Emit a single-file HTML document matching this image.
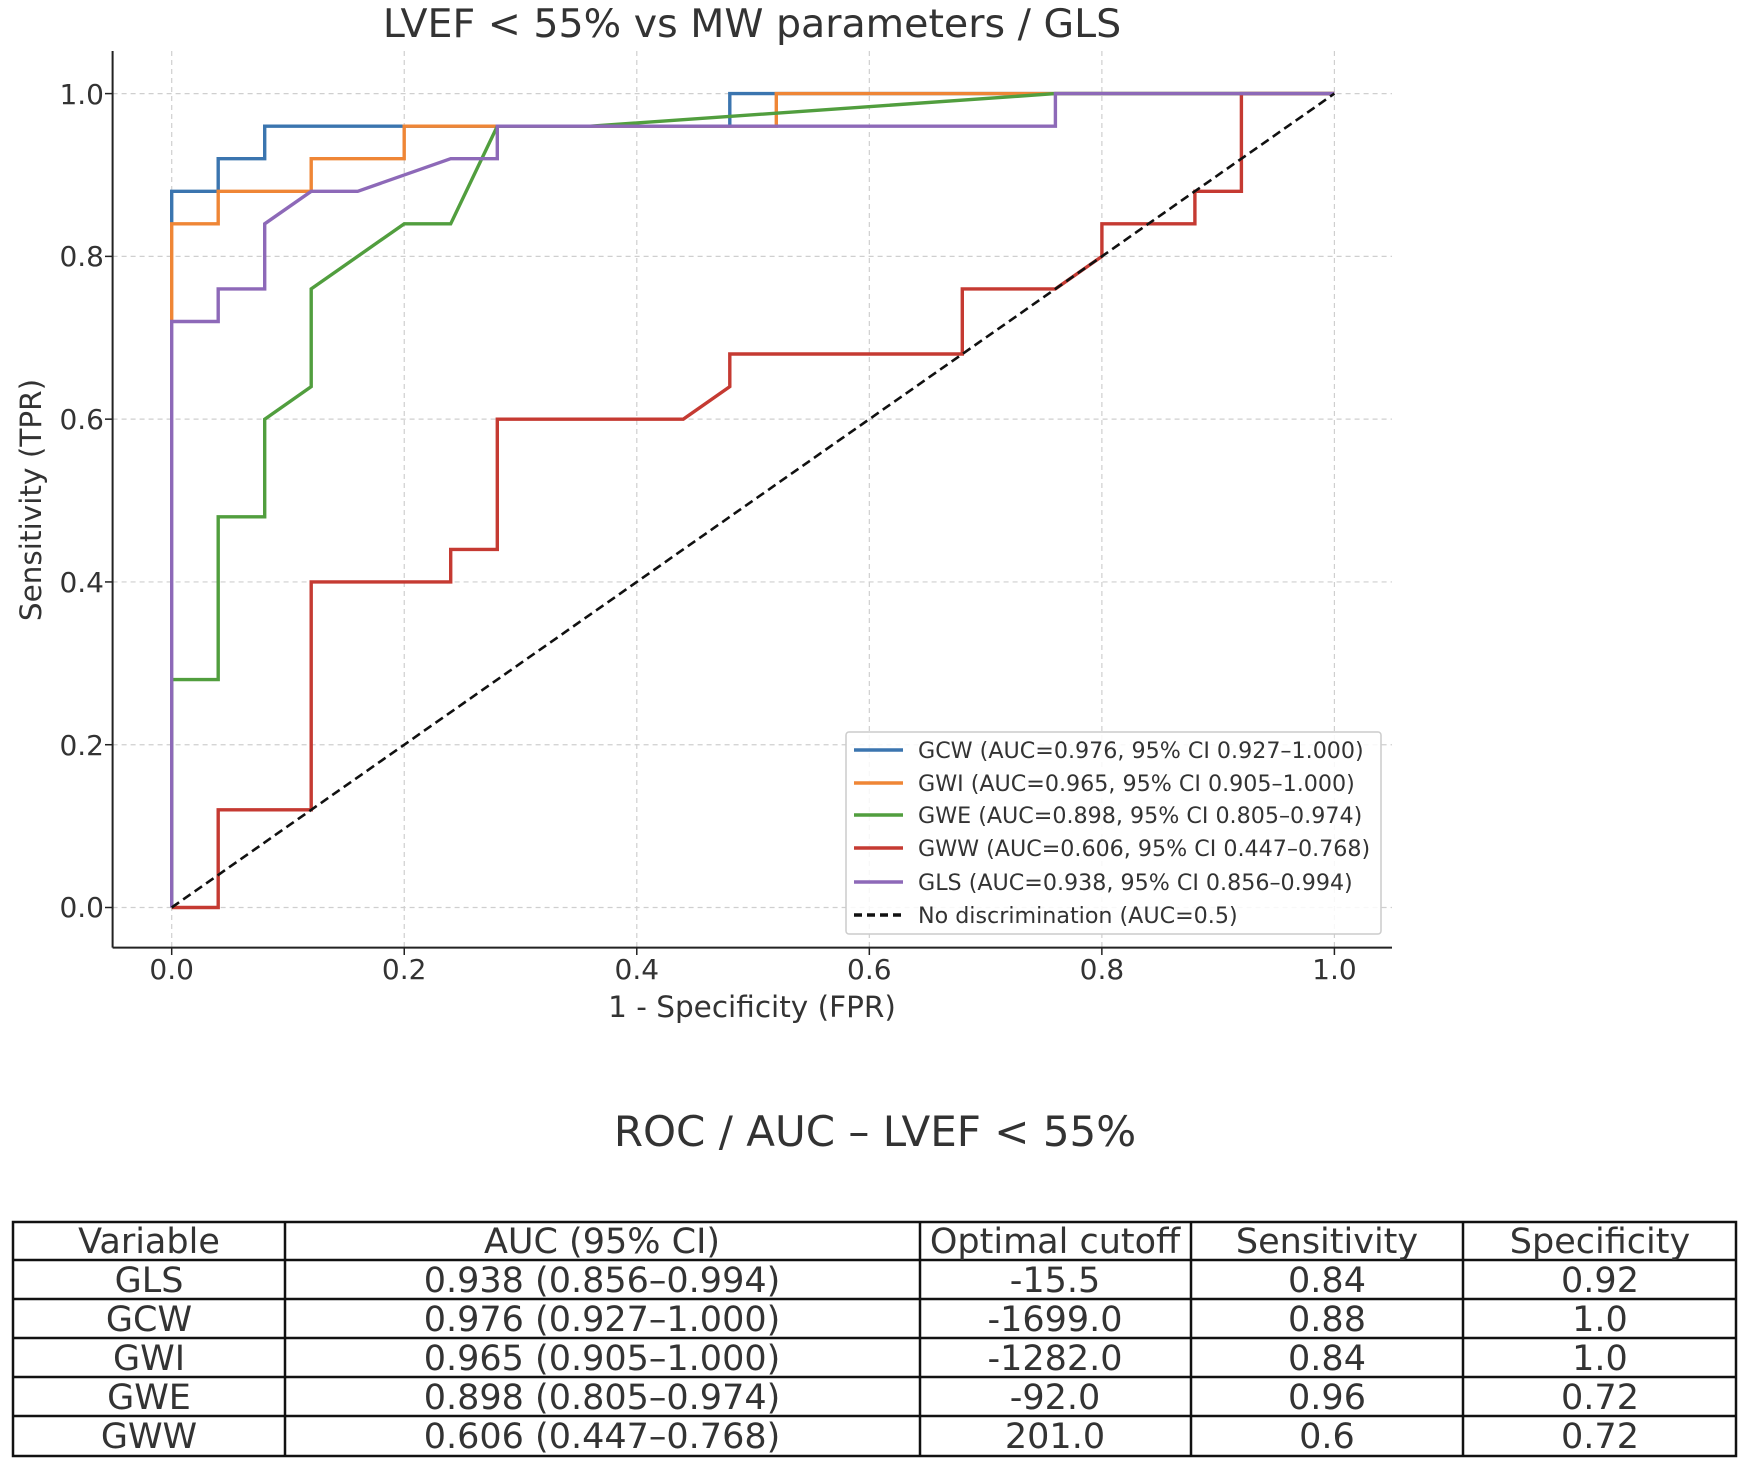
<!DOCTYPE html>
<html><head><meta charset="utf-8"><style>
html,body{margin:0;padding:0;background:#fff;}
svg{display:block;font-family:"DejaVu Sans","Liberation Sans",sans-serif;}
</style></head><body>
<svg id="s" width="1748" height="1474" viewBox="0 0 1748 1474" xmlns="http://www.w3.org/2000/svg">
<rect width="1748" height="1474" fill="#fff"/>
<g id="grid" stroke="#cfcfcf" stroke-width="1.2" stroke-dasharray="5,4"></g>
<line x1="112.6" y1="51" x2="112.6" y2="947.6" stroke="#222" stroke-width="2"/>
<line x1="112.6" y1="947.6" x2="1392" y2="947.6" stroke="#222" stroke-width="2"/>
<g id="ticks" stroke="#222" stroke-width="1.5"></g>
<g font-size="28" fill="#333">
<text x="104" y="917" text-anchor="end">0.0</text>
<text x="104" y="755" text-anchor="end">0.2</text>
<text x="104" y="592" text-anchor="end">0.4</text>
<text x="104" y="429" text-anchor="end">0.6</text>
<text x="104" y="266" text-anchor="end">0.8</text>
<text x="104" y="104" text-anchor="end">1.0</text>
<text x="171.7" y="979" text-anchor="middle">0.0</text>
<text x="404.2" y="979" text-anchor="middle">0.2</text>
<text x="636.8" y="979" text-anchor="middle">0.4</text>
<text x="869.3" y="979" text-anchor="middle">0.6</text>
<text x="1101.9" y="979" text-anchor="middle">0.8</text>
<text x="1334.4" y="979" text-anchor="middle">1.0</text>
<text x="752" y="1017" text-anchor="middle" font-size="29.5">1 - Specificity (FPR)</text>
<text transform="translate(41,500) rotate(-90)" text-anchor="middle" font-size="29.5">Sensitivity (TPR)</text>
</g>
<text x="752" y="37" font-size="39.5" fill="#333" text-anchor="middle">LVEF &lt; 55% vs MW parameters / GLS</text>
<g id="curves" fill="none" stroke-width="3.4"></g>
<rect x="846" y="732" width="535" height="202" fill="#fff" fill-opacity="0.85" stroke="#ccc" stroke-width="1.5" rx="3"/>
<g stroke-width="3.4">
<line x1="854" y1="750" x2="903" y2="750" stroke="#3b75af"/>
<line x1="854" y1="783" x2="903" y2="783" stroke="#ef8636"/>
<line x1="854" y1="815" x2="903" y2="815" stroke="#519e3e"/>
<line x1="854" y1="848" x2="903" y2="848" stroke="#c53a32"/>
<line x1="854" y1="882" x2="903" y2="882" stroke="#8d69b8"/>
<line x1="854" y1="915" x2="903" y2="915" stroke="#111" stroke-dasharray="8,5"/>
</g>
<g font-size="22.2" fill="#333">
<text x="918" y="758">GCW (AUC=0.976, 95% CI 0.927–1.000)</text>
<text x="918" y="791">GWI (AUC=0.965, 95% CI 0.905–1.000)</text>
<text x="918" y="823">GWE (AUC=0.898, 95% CI 0.805–0.974)</text>
<text x="918" y="856">GWW (AUC=0.606, 95% CI 0.447–0.768)</text>
<text x="918" y="890">GLS (AUC=0.938, 95% CI 0.856–0.994)</text>
<text x="918" y="923">No discrimination (AUC=0.5)</text>
</g>
<text x="875" y="1146" font-size="42" fill="#333" text-anchor="middle">ROC / AUC – LVEF &lt; 55%</text>
<g stroke="#111" stroke-width="2.5" fill="none">
<rect x="13" y="1222" width="1723" height="234"/>
<line x1="13" y1="1260" x2="1736" y2="1260"/>
<line x1="13" y1="1299" x2="1736" y2="1299"/>
<line x1="13" y1="1338" x2="1736" y2="1338"/>
<line x1="13" y1="1377" x2="1736" y2="1377"/>
<line x1="13" y1="1416" x2="1736" y2="1416"/>
<line x1="285" y1="1222" x2="285" y2="1456"/>
<line x1="920" y1="1222" x2="920" y2="1456"/>
<line x1="1191" y1="1222" x2="1191" y2="1456"/>
<line x1="1463" y1="1222" x2="1463" y2="1456"/>
</g>
<g id="tbl" font-size="35" fill="#333" text-anchor="middle"></g>
</svg>
<script>
var X=function(x){return 171.7+1162.7*x},Y=function(y){return 907.5-813.9*y};
var ns="http://www.w3.org/2000/svg";
function el(p,t,a,txt){var e=document.createElementNS(ns,t);for(var k in a)e.setAttribute(k,a[k]);if(txt!==undefined)e.textContent=txt;document.getElementById(p).appendChild(e);}
[0,0.2,0.4,0.6,0.8,1].forEach(function(v){
 el("grid","line",{x1:X(v),y1:51,x2:X(v),y2:947.6});
 el("grid","line",{x1:112.6,y1:Y(v),x2:1392,y2:Y(v)});
 el("ticks","line",{x1:X(v),y1:947.6,x2:X(v),y2:955});
 el("ticks","line",{x1:105,y1:Y(v),x2:112.6,y2:Y(v)});
});
function path(pts,c,extra){var d=pts.map(function(p,i){return (i?"L":"M")+X(p[0]).toFixed(1)+","+Y(p[1]).toFixed(1)}).join("");var a={d:d,stroke:c};for(var k in extra)a[k]=extra[k];el("curves","path",a);}
path([[0,0.84],[0,0.88],[0.04,0.88],[0.04,0.92],[0.08,0.92],[0.08,0.96],[0.48,0.96],[0.48,1],[1,1]],"#3b75af");
path([[0,0.72],[0,0.84],[0.04,0.84],[0.04,0.88],[0.12,0.88],[0.12,0.92],[0.2,0.92],[0.2,0.96],[0.52,0.96],[0.52,1],[1,1]],"#ef8636");
path([[0,0],[0,0.28],[0.04,0.28],[0.04,0.48],[0.08,0.48],[0.08,0.6],[0.12,0.64],[0.12,0.76],[0.2,0.84],[0.24,0.84],[0.28,0.96],[0.36,0.96],[0.76,1],[1,1]],"#519e3e");
path([[0,0],[0.04,0],[0.04,0.12],[0.12,0.12],[0.12,0.4],[0.24,0.4],[0.24,0.44],[0.28,0.44],[0.28,0.6],[0.44,0.6],[0.48,0.64],[0.48,0.68],[0.68,0.68],[0.68,0.76],[0.76,0.76],[0.8,0.8],[0.8,0.84],[0.88,0.84],[0.88,0.88],[0.92,0.88],[0.92,1],[1,1]],"#c53a32");
path([[0,0],[0,0.72],[0.04,0.72],[0.04,0.76],[0.08,0.76],[0.08,0.84],[0.12,0.88],[0.16,0.88],[0.24,0.92],[0.28,0.92],[0.28,0.96],[0.76,0.96],[0.76,1],[1,1]],"#8d69b8");
path([[0,0],[1,1]],"#111",{"stroke-dasharray":"9,5","stroke-width":2.6});
var cx=[149,602,1055,1327,1600],rows=[
["Variable","AUC (95% CI)","Optimal cutoff","Sensitivity","Specificity"],
["GLS","0.938 (0.856–0.994)","-15.5","0.84","0.92"],
["GCW","0.976 (0.927–1.000)","-1699.0","0.88","1.0"],
["GWI","0.965 (0.905–1.000)","-1282.0","0.84","1.0"],
["GWE","0.898 (0.805–0.974)","-92.0","0.96","0.72"],
["GWW","0.606 (0.447–0.768)","201.0","0.6","0.72"]];
var ry=[1253,1292,1331,1370,1409,1448];
rows.forEach(function(r,i){r.forEach(function(t,j){el("tbl","text",{x:cx[j],y:ry[i]},t);});});
</script>
</body></html>
